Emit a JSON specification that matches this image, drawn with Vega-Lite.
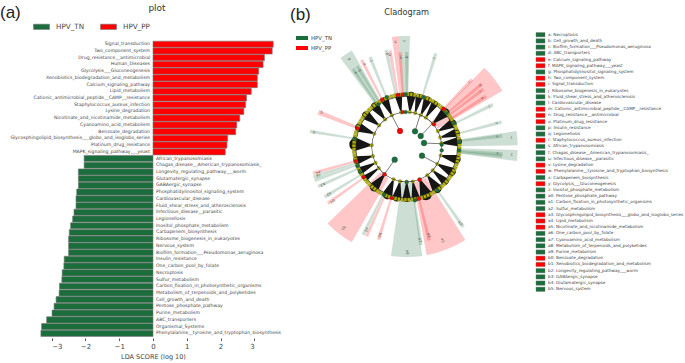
{"$schema":"https://vega.github.io/schema/vega-lite/v6.json","width":685,"height":363,"autosize":{"type":"none"},"padding":0,"background":"white","config":{"view":{"stroke":null},"text":{"font":"DejaVu Sans"},"axis":{"labelFont":"DejaVu Sans","titleFont":"DejaVu Sans"},"legend":{"labelFont":"DejaVu Sans"}},"resolve":{"scale":{"x":"independent","y":"independent","color":"independent"}},"layer":[
{"data":{"values":[{"pathway":"Signal_transduction","lda":3.56,"group":"HPV_PP"},{"pathway":"Two_component_system","lda":3.53,"group":"HPV_PP"},{"pathway":"Drug_resistance__antimicrobial","lda":3.3,"group":"HPV_PP"},{"pathway":"Human_Diseases","lda":3.26,"group":"HPV_PP"},{"pathway":"Glycolysis___Gluconeogenesis","lda":3.13,"group":"HPV_PP"},{"pathway":"Xenobiotics_biodegradation_and_metabolism","lda":3.09,"group":"HPV_PP"},{"pathway":"Calcium_signaling_pathway","lda":3.09,"group":"HPV_PP"},{"pathway":"Lipid_metabolism","lda":2.91,"group":"HPV_PP"},{"pathway":"Cationic_antimicrobial_peptide__CAMP__resistance","lda":2.77,"group":"HPV_PP"},{"pathway":"Staphylococcus_aureus_infection","lda":2.74,"group":"HPV_PP"},{"pathway":"Lysine_degradation","lda":2.69,"group":"HPV_PP"},{"pathway":"Nicotinate_and_nicotinamide_metabolism","lda":2.57,"group":"HPV_PP"},{"pathway":"Cyanoamino_acid_metabolism","lda":2.48,"group":"HPV_PP"},{"pathway":"Benzoate_degradation","lda":2.45,"group":"HPV_PP"},{"pathway":"Glycosphingolipid_biosynthesis___globo_and_isoglobo_series","lda":2.21,"group":"HPV_PP"},{"pathway":"Platinum_drug_resistance","lda":2.19,"group":"HPV_PP"},{"pathway":"MAPK_signaling_pathway___yeast","lda":2.14,"group":"HPV_PP"},{"pathway":"African_trypanosomiasis","lda":-2.04,"group":"HPV_TN"},{"pathway":"Chagas_disease__American_trypanosomiasis_","lda":-2.04,"group":"HPV_TN"},{"pathway":"Longevity_regulating_pathway___worm","lda":-2.21,"group":"HPV_TN"},{"pathway":"Glutamatergic_synapse","lda":-2.21,"group":"HPV_TN"},{"pathway":"GABAergic_synapse","lda":-2.21,"group":"HPV_TN"},{"pathway":"Phosphatidylinositol_signaling_system","lda":-2.26,"group":"HPV_TN"},{"pathway":"Cardiovascular_disease","lda":-2.28,"group":"HPV_TN"},{"pathway":"Fluid_shear_stress_and_atherosclerosis","lda":-2.28,"group":"HPV_TN"},{"pathway":"Infectious_disease__parasitic","lda":-2.34,"group":"HPV_TN"},{"pathway":"Legionellosis","lda":-2.38,"group":"HPV_TN"},{"pathway":"Inositol_phosphate_metabolism","lda":-2.44,"group":"HPV_TN"},{"pathway":"Carbapenem_biosynthesis","lda":-2.48,"group":"HPV_TN"},{"pathway":"Ribosome_biogenesis_in_eukaryotes","lda":-2.5,"group":"HPV_TN"},{"pathway":"Nervous_system","lda":-2.5,"group":"HPV_TN"},{"pathway":"Biofilm_formation___Pseudomonas_aeruginosa","lda":-2.5,"group":"HPV_TN"},{"pathway":"Insulin_resistance","lda":-2.63,"group":"HPV_TN"},{"pathway":"One_carbon_pool_by_folate","lda":-2.64,"group":"HPV_TN"},{"pathway":"Necroptosis","lda":-2.69,"group":"HPV_TN"},{"pathway":"Sulfur_metabolism","lda":-2.7,"group":"HPV_TN"},{"pathway":"Carbon_fixation_in_photosynthetic_organisms","lda":-2.77,"group":"HPV_TN"},{"pathway":"Metabolism_of_terpenoids_and_polyketides","lda":-2.78,"group":"HPV_TN"},{"pathway":"Cell_growth_and_death","lda":-2.87,"group":"HPV_TN"},{"pathway":"Pentose_phosphate_pathway","lda":-2.93,"group":"HPV_TN"},{"pathway":"Purine_metabolism","lda":-2.99,"group":"HPV_TN"},{"pathway":"ABC_transporters","lda":-3.15,"group":"HPV_TN"},{"pathway":"Organismal_Systems","lda":-3.3,"group":"HPV_TN"},{"pathway":"Phenylalanine__tyrosine_and_tryptophan_biosynthesis","lda":-3.32,"group":"HPV_TN"}]},
"encoding":{"y":{"field":"pathway","type":"nominal","sort":null,"axis":null,"scale":{"range":[41.15,336.4],"paddingInner":0.08,"paddingOuter":0}}},
"layer":[
{"mark":{"type":"bar","stroke":"#777777","strokeWidth":0.6},"encoding":{"x":{"field":"lda","type":"quantitative","stack":null,"scale":{"domain":[-3,3],"range":[51.7,254.3],"nice":false,"zero":false},"axis":{"values":[-3,-2,-1,0,1,2,3],"format":"d","offset":-25,"domain":false,"grid":false,"ticks":true,"tickSize":2.5,"tickColor":"#555555","labelFontSize":7,"labelColor":"#444444","labelPadding":2,"title":"LDA SCORE (log 10)","titleFontSize":6.5,"titleFontWeight":"normal","titleColor":"#444444","titlePadding":4}},"color":{"field":"group","type":"nominal","scale":{"domain":["HPV_TN","HPV_PP"],"range":["#1b6e3c","#ff0000"]},"legend":{"orient":"none","legendX":33,"legendY":18,"direction":"horizontal","title":null,"symbolType":"M-1,-0.33H1V0.33H-1Z","symbolSize":256,"symbolStrokeWidth":0.6,"labelFontSize":7.2,"labelColor":"#444444","labelOffset":6,"columnPadding":14}}}},
{"transform":[{"filter":"datum.group=='HPV_PP'"}],"mark":{"type":"text","align":"right","dx":-3,"fontSize":4.6,"fill":"#444444"},"encoding":{"x":{"datum":0,"type":"quantitative","scale":{"domain":[-3,3],"range":[51.7,254.3],"nice":false,"zero":false}},"text":{"field":"pathway"}}},
{"transform":[{"filter":"datum.group=='HPV_TN'"}],"mark":{"type":"text","align":"left","dx":3,"fontSize":4.6,"fill":"#444444"},"encoding":{"x":{"datum":0,"type":"quantitative","scale":{"domain":[-3,3],"range":[51.7,254.3],"nice":false,"zero":false}},"text":{"field":"pathway"}}}
]},
{"layer":[
{"data":{"values":[{"t":-7.7,"t2":-4,"r1":50,"r2":111,"g":"HPV_PP"},{"t":-4,"t2":1.7,"r1":50,"r2":111,"g":"HPV_TN"},{"t":-36.7,"t2":-29.6,"r1":50,"r2":111,"g":"HPV_TN"},{"t":-150,"t2":-134,"r1":36,"r2":110,"g":"HPV_PP"},{"t":171.8,"t2":188.2,"r1":36,"r2":110,"g":"HPV_TN"},{"t":147.8,"t2":169.5,"r1":36,"r2":110,"g":"HPV_PP"},{"t":91.5,"t2":97.3,"r1":50,"r2":111,"g":"HPV_TN"},{"t":81.7,"t2":89.1,"r1":50,"r2":111,"g":"HPV_TN"},{"t":44.4,"t2":59.6,"r1":36,"r2":111,"g":"HPV_PP"},{"t":-5,"t2":-3,"r1":50,"r2":95,"g":"HPV_PP"},{"t":-1,"t2":1,"r1":50,"r2":95,"g":"HPV_TN"},{"t":-13,"t2":-11,"r1":50,"r2":99,"g":"HPV_TN"},{"t":-10.8,"t2":-8.8,"r1":50,"r2":98,"g":"HPV_PP"},{"t":16.3,"t2":18.3,"r1":50,"r2":98,"g":"HPV_TN"},{"t":-35.5,"t2":-33.5,"r1":50,"r2":95,"g":"HPV_TN"},{"t":-32.5,"t2":-30.5,"r1":50,"r2":95,"g":"HPV_TN"},{"t":-28.4,"t2":-26.4,"r1":50,"r2":98,"g":"HPV_PP"},{"t":-23.2,"t2":-21.2,"r1":50,"r2":97,"g":"HPV_TN"},{"t":-70,"t2":-67,"r1":50,"r2":95,"g":"HPV_PP"},{"t":-81.8,"t2":-79.8,"r1":50,"r2":98,"g":"HPV_TN"},{"t":-106.6,"t2":-104.6,"r1":50,"r2":97,"g":"HPV_PP"},{"t":-108.8,"t2":-106.8,"r1":50,"r2":98,"g":"HPV_TN"},{"t":-110.9,"t2":-108.9,"r1":50,"r2":98,"g":"HPV_TN"},{"t":-115,"t2":-113,"r1":50,"r2":97,"g":"HPV_TN"},{"t":-122.3,"t2":-120.3,"r1":50,"r2":96,"g":"HPV_TN"},{"t":-126.6,"t2":-124.6,"r1":50,"r2":97,"g":"HPV_PP"},{"t":-154.6,"t2":-152.6,"r1":50,"r2":98,"g":"HPV_TN"},{"t":-156.8,"t2":-154.8,"r1":50,"r2":98,"g":"HPV_PP"},{"t":-164.1,"t2":-162.1,"r1":50,"r2":97,"g":"HPV_PP"},{"t":170.7,"t2":172.7,"r1":50,"r2":99,"g":"HPV_TN"},{"t":165.5,"t2":167.5,"r1":50,"r2":96,"g":"HPV_PP"},{"t":143.7,"t2":145.7,"r1":50,"r2":98,"g":"HPV_TN"},{"t":93.2,"t2":95.2,"r1":50,"r2":96,"g":"HPV_TN"},{"t":94.5,"t2":96.5,"r1":50,"r2":96,"g":"HPV_TN"},{"t":82.4,"t2":84.4,"r1":50,"r2":96,"g":"HPV_TN"},{"t":74.3,"t2":76.3,"r1":50,"r2":98,"g":"HPV_TN"},{"t":62.8,"t2":64.8,"r1":50,"r2":96,"g":"HPV_TN"},{"t":43,"t2":45,"r1":50,"r2":94,"g":"HPV_PP"},{"t":49,"t2":51,"r1":50,"r2":98,"g":"HPV_PP"},{"t":52,"t2":54,"r1":50,"r2":96,"g":"HPV_PP"},{"t":56.4,"t2":58.4,"r1":50,"r2":94,"g":"HPV_PP"}]},
"mark":{"type":"arc","opacity":0.22},
"encoding":{"x":{"datum":0,"type":"quantitative","axis":null,"scale":{"domain":[-112,112],"range":[294.7,518.7],"nice":false,"zero":false}},"y":{"datum":0,"type":"quantitative","axis":null,"scale":{"domain":[-112,112],"range":[35,259],"nice":false,"zero":false}},"theta":{"field":"t","type":"quantitative","stack":false,"scale":{"domain":[0,360],"range":[0,6.28319]}},"theta2":{"field":"t2"},"radius":{"field":"r2","type":"quantitative","scale":{"type":"linear","domain":[0,112],"range":[0,112]}},"radius2":{"field":"r1"},"color":{"field":"g","type":"nominal","legend":null,"scale":{"domain":["HPV_TN","HPV_PP"],"range":["#1b6e3c","#ff0000"]}}}},
{"data":{"values":[{"f":1,"x":3.1,"y":-34.9,"w":0},{"f":1,"x":4.4,"y":-50.8,"w":9},{"f":2,"x":8.5,"y":-34,"w":0},{"f":2,"x":12.3,"y":-49.5,"w":7},{"f":3,"x":14.2,"y":-32,"w":0},{"f":3,"x":20.7,"y":-46.6,"w":8},{"f":4,"x":19.1,"y":-29.4,"w":0},{"f":4,"x":27.8,"y":-42.8,"w":7},{"f":5,"x":26,"y":-23.4,"w":0},{"f":5,"x":37.9,"y":-34.1,"w":10},{"f":6,"x":31.2,"y":-15.9,"w":0},{"f":6,"x":45.4,"y":-23.2,"w":9},{"f":7,"x":33.6,"y":-9.6,"w":0},{"f":7,"x":49,"y":-14.1,"w":8},{"f":8,"x":34.8,"y":-3.7,"w":0},{"f":8,"x":50.7,"y":-5.3,"w":9},{"f":9,"x":34,"y":8.5,"w":0},{"f":9,"x":49.5,"y":12.3,"w":9},{"f":10,"x":30.6,"y":17,"w":0},{"f":10,"x":44.6,"y":24.7,"w":9},{"f":11,"x":26,"y":23.4,"w":0},{"f":11,"x":37.9,"y":34.1,"w":8},{"f":12,"x":20.6,"y":28.3,"w":0},{"f":12,"x":30,"y":41.3,"w":10},{"f":13,"x":13.1,"y":32.4,"w":0},{"f":13,"x":19.1,"y":47.3,"w":12},{"f":14,"x":6.1,"y":34.5,"w":0},{"f":14,"x":8.9,"y":50.2,"w":8},{"f":15,"x":0,"y":35,"w":0},{"f":15,"x":0,"y":51,"w":8},{"f":16,"x":-6.7,"y":34.4,"w":0},{"f":16,"x":-9.7,"y":50.1,"w":9},{"f":17,"x":-13.1,"y":32.4,"w":0},{"f":17,"x":-19.1,"y":47.3,"w":10},{"f":18,"x":-22,"y":27.2,"w":0},{"f":18,"x":-32.1,"y":39.6,"w":10},{"f":19,"x":-28,"y":21.1,"w":0},{"f":19,"x":-40.7,"y":30.7,"w":6},{"f":20,"x":-31.2,"y":15.9,"w":0},{"f":20,"x":-45.4,"y":23.2,"w":7},{"f":21,"x":-33.8,"y":9.1,"w":0},{"f":21,"x":-49.3,"y":13.2,"w":8},{"f":22,"x":-35,"y":-1.8,"w":0},{"f":22,"x":-50.9,"y":-2.7,"w":13},{"f":23,"x":-32.4,"y":-13.3,"w":0},{"f":23,"x":-47.2,"y":-19.4,"w":9},{"f":24,"x":-27.6,"y":-21.6,"w":0},{"f":24,"x":-40.2,"y":-31.4,"w":9},{"f":25,"x":-21.6,"y":-27.6,"w":0},{"f":25,"x":-31.4,"y":-40.2,"w":9},{"f":26,"x":-14.8,"y":-31.7,"w":0},{"f":26,"x":-21.6,"y":-46.2,"w":8},{"f":27,"x":-5.5,"y":-34.6,"w":0},{"f":27,"x":-8,"y":-50.4,"w":7}]},
"layer":[
{"mark":{"type":"trail","color":"#161616"},"encoding":{"x":{"field":"x","type":"quantitative","axis":null,"scale":{"domain":[-112,112],"range":[294.7,518.7],"nice":false,"zero":false}},"y":{"field":"y","type":"quantitative","axis":null,"scale":{"domain":[-112,112],"range":[35,259],"nice":false,"zero":false}},"detail":{"field":"f"},"size":{"field":"w","type":"quantitative","scale":null}}},
{"transform":[{"filter":"datum.w==0"}],"mark":{"type":"point","filled":true,"fill":"#b5b500","stroke":"#555555","strokeWidth":0.3,"opacity":1,"size":13},"encoding":{"x":{"field":"x","type":"quantitative","axis":null,"scale":{"domain":[-112,112],"range":[294.7,518.7],"nice":false,"zero":false}},"y":{"field":"y","type":"quantitative","axis":null,"scale":{"domain":[-112,112],"range":[35,259],"nice":false,"zero":false}}}}
]},
{"data":{"values":[{"t":0,"t2":360,"r1":34.7,"r2":35.2},{"t":0,"t2":360,"r1":50.5,"r2":51.2},{"t":0,"t2":2.8},{"t":3.6,"t2":6.4},{"t":7.2,"t2":10},{"t":10.8,"t2":13.6},{"t":14.4,"t2":17.2},{"t":18,"t2":20.8},{"t":21.6,"t2":24.4},{"t":25.2,"t2":28},{"t":28.8,"t2":31.6},{"t":32.4,"t2":35.2},{"t":36,"t2":38.8},{"t":39.6,"t2":42.4},{"t":43.2,"t2":46},{"t":46.8,"t2":49.6},{"t":50.4,"t2":53.2},{"t":54,"t2":56.8},{"t":57.6,"t2":60.4},{"t":61.2,"t2":64},{"t":64.8,"t2":67.6},{"t":68.4,"t2":71.2},{"t":72,"t2":74.8},{"t":75.6,"t2":78.4},{"t":79.2,"t2":82},{"t":82.8,"t2":85.6},{"t":86.4,"t2":89.2},{"t":90,"t2":92.8},{"t":93.6,"t2":96.4},{"t":97.2,"t2":100},{"t":100.8,"t2":103.6},{"t":104.4,"t2":107.2},{"t":108,"t2":110.8},{"t":111.6,"t2":114.4},{"t":115.2,"t2":118},{"t":118.8,"t2":121.6},{"t":122.4,"t2":125.2},{"t":126,"t2":128.8},{"t":129.6,"t2":132.4},{"t":133.2,"t2":136},{"t":136.8,"t2":139.6},{"t":140.4,"t2":143.2},{"t":144,"t2":146.8},{"t":147.6,"t2":150.4},{"t":151.2,"t2":154},{"t":154.8,"t2":157.6},{"t":158.4,"t2":161.2},{"t":162,"t2":164.8},{"t":165.6,"t2":168.4},{"t":169.2,"t2":172},{"t":172.8,"t2":175.6},{"t":176.4,"t2":179.2},{"t":180,"t2":182.8},{"t":183.6,"t2":186.4},{"t":187.2,"t2":190},{"t":190.8,"t2":193.6},{"t":194.4,"t2":197.2},{"t":198,"t2":200.8},{"t":201.6,"t2":204.4},{"t":205.2,"t2":208},{"t":208.8,"t2":211.6},{"t":212.4,"t2":215.2},{"t":216,"t2":218.8},{"t":219.6,"t2":222.4},{"t":223.2,"t2":226},{"t":226.8,"t2":229.6},{"t":230.4,"t2":233.2},{"t":234,"t2":236.8},{"t":237.6,"t2":240.4},{"t":241.2,"t2":244},{"t":244.8,"t2":247.6},{"t":248.4,"t2":251.2},{"t":252,"t2":254.8},{"t":255.6,"t2":258.4},{"t":259.2,"t2":262},{"t":262.8,"t2":265.6},{"t":266.4,"t2":269.2},{"t":270,"t2":272.8},{"t":273.6,"t2":276.4},{"t":277.2,"t2":280},{"t":280.8,"t2":283.6},{"t":284.4,"t2":287.2},{"t":288,"t2":290.8},{"t":291.6,"t2":294.4},{"t":295.2,"t2":298},{"t":298.8,"t2":301.6},{"t":302.4,"t2":305.2},{"t":306,"t2":308.8},{"t":309.6,"t2":312.4},{"t":313.2,"t2":316},{"t":316.8,"t2":319.6},{"t":320.4,"t2":323.2},{"t":324,"t2":326.8},{"t":327.6,"t2":330.4},{"t":331.2,"t2":334},{"t":334.8,"t2":337.6},{"t":338.4,"t2":341.2},{"t":342,"t2":344.8},{"t":345.6,"t2":348.4},{"t":349.2,"t2":352},{"t":352.8,"t2":355.6},{"t":356.4,"t2":359.2}]},
"layer":[
{"transform":[{"filter":"datum.r1>0"}],"mark":{"type":"arc","fill":"#222222"},"encoding":{"x":{"datum":0,"type":"quantitative","axis":null,"scale":{"domain":[-112,112],"range":[294.7,518.7],"nice":false,"zero":false}},"y":{"datum":0,"type":"quantitative","axis":null,"scale":{"domain":[-112,112],"range":[35,259],"nice":false,"zero":false}},"theta":{"field":"t","type":"quantitative","stack":false,"scale":{"domain":[0,360],"range":[0,6.28319]}},"theta2":{"field":"t2"},"radius":{"field":"r2","type":"quantitative","scale":{"type":"linear","domain":[0,112],"range":[0,112]}},"radius2":{"field":"r1"}}},
{"transform":[{"filter":"!(datum.r1>0)"}],"mark":{"type":"arc","fill":"#b3b300","stroke":"#5a5a20","strokeWidth":0.25,"innerRadius":51,"outerRadius":54.5},"encoding":{"x":{"datum":0,"type":"quantitative","axis":null,"scale":{"domain":[-112,112],"range":[294.7,518.7],"nice":false,"zero":false}},"y":{"datum":0,"type":"quantitative","axis":null,"scale":{"domain":[-112,112],"range":[35,259],"nice":false,"zero":false}},"theta":{"field":"t","type":"quantitative","stack":false,"scale":{"domain":[0,360],"range":[0,6.28319]}},"theta2":{"field":"t2"}}}
]},
{"data":{"values":[{"x":-6.7,"y":-16,"x2":-15,"y2":-31.7,"n":"HPV_PP"},{"x":8.3,"y":-15.7,"x2":13.3,"y2":-31.7,"n":"none"},{"x":14,"y":-11,"x2":25,"y2":-22.7,"n":"none"},{"x":17.3,"y":-4,"x2":33.3,"y2":-3.3,"n":"none"},{"x":15.3,"y":8.7,"x2":30,"y2":16.7,"n":"HPV_TN"},{"x":-12,"y":12.7,"x2":-22.3,"y2":27.3,"n":"none"}]},
"layer":[
{"mark":{"type":"rule","stroke":"#444444","strokeWidth":0.7},"encoding":{"x":{"field":"x","type":"quantitative","axis":null,"scale":{"domain":[-112,112],"range":[294.7,518.7],"nice":false,"zero":false}},"y":{"field":"y","type":"quantitative","axis":null,"scale":{"domain":[-112,112],"range":[35,259],"nice":false,"zero":false}},"x2":{"field":"x2"},"y2":{"field":"y2"}}},
{"mark":{"type":"point","filled":true,"stroke":"#444444","strokeWidth":0.3,"opacity":1,"size":34},"encoding":{"x":{"field":"x","type":"quantitative","axis":null,"scale":{"domain":[-112,112],"range":[294.7,518.7],"nice":false,"zero":false}},"y":{"field":"y","type":"quantitative","axis":null,"scale":{"domain":[-112,112],"range":[35,259],"nice":false,"zero":false}},"color":{"field":"n","type":"nominal","legend":null,"scale":{"domain":["HPV_TN","HPV_PP","none"],"range":["#1b6e3c","#ff0000","#b5b500"]}}}}
]},
{"data":{"values":[{"x":-49.3,"y":-18.7,"g":"HPV_PP"},{"x":-52.3,"y":-8.3,"g":"HPV_TN"},{"x":-50.7,"y":14,"g":"HPV_PP"},{"x":-49.3,"y":19,"g":"HPV_TN"},{"x":-46.7,"y":25,"g":"HPV_TN"},{"x":-43.3,"y":30,"g":"HPV_PP"},{"x":-22.3,"y":27.3,"g":"HPV_PP"},{"x":-22.7,"y":47.7,"g":"HPV_TN"},{"x":-15,"y":51,"g":"HPV_PP"},{"x":0,"y":35,"g":"HPV_TN"},{"x":8.3,"y":53.3,"g":"HPV_TN"},{"x":12.7,"y":32.7,"g":"HPV_PP"},{"x":12.3,"y":51.7,"g":"HPV_PP"},{"x":30.7,"y":43.3,"g":"HPV_TN"},{"x":52.3,"y":3.3,"g":"HPV_TN"},{"x":35,"y":-2.3,"g":"HPV_TN"},{"x":35,"y":3.3,"g":"HPV_TN"},{"x":52.3,"y":-5,"g":"HPV_TN"},{"x":47.3,"y":-24,"g":"HPV_TN"},{"x":40,"y":-34,"g":"HPV_TN"},{"x":36.7,"y":-38.3,"g":"HPV_PP"},{"x":27.3,"y":-22.7,"g":"HPV_PP"},{"x":16.7,"y":-50,"g":"HPV_TN"},{"x":-4,"y":-52.3,"g":"HPV_PP"},{"x":-1,"y":-52.7,"g":"HPV_TN"},{"x":-9,"y":-52,"g":"HPV_PP"},{"x":-24.7,"y":-47.3,"g":"HPV_PP"},{"x":-20,"y":-50,"g":"HPV_TN"},{"x":-28.3,"y":-42.7,"g":"HPV_TN"},{"x":-4,"y":-35,"g":"HPV_PP"},{"x":-1,"y":-35,"g":"HPV_TN"}]},
"mark":{"type":"point","filled":true,"stroke":"#333333","strokeWidth":0.3,"opacity":1,"size":14},"encoding":{"x":{"field":"x","type":"quantitative","axis":null,"scale":{"domain":[-112,112],"range":[294.7,518.7],"nice":false,"zero":false}},"y":{"field":"y","type":"quantitative","axis":null,"scale":{"domain":[-112,112],"range":[35,259],"nice":false,"zero":false}},"color":{"field":"g","type":"nominal","legend":null,"scale":{"domain":["HPV_TN","HPV_PP","none"],"range":["#1b6e3c","#ff0000","#b5b500"]}}}},
{"data":{"values":[{"t":-1,"r":106,"l":"l"},{"t":-6,"r":106,"l":"n"},{"t":-3.5,"r":90,"l":"m"},{"t":0,"r":90,"l":"k"},{"t":-12,"r":95,"l":"g"},{"t":-10,"r":94,"l":"h"},{"t":-33,"r":105,"l":"d"},{"t":-34.5,"r":90,"l":"a"},{"t":-31.5,"r":90,"l":"b"},{"t":-27,"r":93,"l":"e"},{"t":-22,"r":93,"l":"f"},{"t":17,"r":93,"l":"c"},{"t":44,"r":90,"l":"i"},{"t":50,"r":96,"l":"o"},{"t":53,"r":92,"l":"r"},{"t":57,"r":90,"l":"v"},{"t":64,"r":92,"l":"j"},{"t":75,"r":93,"l":"u"},{"t":83.4,"r":91,"l":"s"},{"t":85,"r":105,"l":"t"},{"t":94,"r":91,"l":"x"},{"t":94,"r":105,"l":"z"},{"t":145,"r":93,"l":"a0"},{"t":166,"r":91,"l":"a3"},{"t":159,"r":100,"l":"a5"},{"t":172,"r":94,"l":"a7"},{"t":180,"r":105,"l":"a9"},{"t":-163,"r":92,"l":"b0"},{"t":-154,"r":92,"l":"a1"},{"t":-142,"r":103,"l":"b1"},{"t":-126,"r":92,"l":"b4"},{"t":-121,"r":91,"l":"b2"},{"t":-114,"r":92,"l":"b3"},{"t":-108,"r":93,"l":"a2"},{"t":-106,"r":92,"l":"a4"},{"t":-81,"r":94,"l":"p"},{"t":-68,"r":92,"l":"q"}]},
"mark":{"type":"text","fontSize":3.8,"fill":"#555555"},"encoding":{"x":{"datum":0,"type":"quantitative","axis":null,"scale":{"domain":[-112,112],"range":[294.7,518.7],"nice":false,"zero":false}},"y":{"datum":0,"type":"quantitative","axis":null,"scale":{"domain":[-112,112],"range":[35,259],"nice":false,"zero":false}},"theta":{"field":"t","type":"quantitative","stack":false,"scale":{"domain":[0,360],"range":[0,6.28319]}},"radius":{"field":"r","type":"quantitative","scale":{"type":"linear","domain":[0,112],"range":[0,112]}},"angle":{"field":"t","type":"quantitative","scale":{"domain":[-90,270],"range":[-180,180]}},"text":{"field":"l"}}}
]},
{"data":{"values":[{"group":"HPV_TN"},{"group":"HPV_PP"}]},
"encoding":{"y":{"field":"group","type":"nominal","sort":null,"axis":null,"scale":{"range":[33,53],"paddingInner":0.6,"paddingOuter":0.3}},"x":{"datum":0,"type":"quantitative","axis":null,"scale":{"domain":[0,1],"range":[296,308],"nice":false,"zero":false}}},
"layer":[
{"mark":{"type":"rect"},"encoding":{"x2":{"datum":1},"color":{"field":"group","type":"nominal","legend":null,"scale":{"domain":["HPV_TN","HPV_PP"],"range":["#1b6e3c","#ff0000"]}}}},
{"mark":{"type":"text","align":"left","dx":3,"fontSize":5.4,"fill":"#444444"},"encoding":{"x":{"datum":1,"type":"quantitative","axis":null,"scale":{"domain":[0,1],"range":[296,308],"nice":false,"zero":false}},"text":{"field":"group"}}}
]},
{"data":{"values":[{"key":"a: Necroptosis","group":"HPV_TN"},{"key":"b: Cell_growth_and_death","group":"HPV_TN"},{"key":"c: Biofilm_formation___Pseudomonas_aeruginosa","group":"HPV_TN"},{"key":"d: ABC_transporters","group":"HPV_TN"},{"key":"e: Calcium_signaling_pathway","group":"HPV_PP"},{"key":"f: MAPK_signaling_pathway___yeast","group":"HPV_PP"},{"key":"g: Phosphatidylinositol_signaling_system","group":"HPV_TN"},{"key":"h: Two_component_system","group":"HPV_PP"},{"key":"i: Signal_transduction","group":"HPV_PP"},{"key":"j: Ribosome_biogenesis_in_eukaryotes","group":"HPV_TN"},{"key":"k: Fluid_shear_stress_and_atherosclerosis","group":"HPV_TN"},{"key":"l: Cardiovascular_disease","group":"HPV_TN"},{"key":"m: Cationic_antimicrobial_peptide__CAMP__resistance","group":"HPV_PP"},{"key":"n: Drug_resistance__antimicrobial","group":"HPV_PP"},{"key":"o: Platinum_drug_resistance","group":"HPV_PP"},{"key":"p: Insulin_resistance","group":"HPV_TN"},{"key":"q: Legionellosis","group":"HPV_TN"},{"key":"r: Staphylococcus_aureus_infection","group":"HPV_PP"},{"key":"s: African_trypanosomiasis","group":"HPV_TN"},{"key":"t: Chagas_disease__American_trypanosomiasis_","group":"HPV_TN"},{"key":"u: Infectious_disease__parasitic","group":"HPV_TN"},{"key":"v: Lysine_degradation","group":"HPV_PP"},{"key":"w: Phenylalanine__tyrosine_and_tryptophan_biosynthesis","group":"HPV_PP"},{"key":"x: Carbapenem_biosynthesis","group":"HPV_TN"},{"key":"y: Glycolysis___Gluconeogenesis","group":"HPV_PP"},{"key":"z: Inositol_phosphate_metabolism","group":"HPV_TN"},{"key":"a0: Pentose_phosphate_pathway","group":"HPV_TN"},{"key":"a1: Carbon_fixation_in_photosynthetic_organisms","group":"HPV_TN"},{"key":"a2: Sulfur_metabolism","group":"HPV_TN"},{"key":"a3: Glycosphingolipid_biosynthesis___globo_and_isoglobo_series","group":"HPV_PP"},{"key":"a4: Lipid_metabolism","group":"HPV_PP"},{"key":"a5: Nicotinate_and_nicotinamide_metabolism","group":"HPV_PP"},{"key":"a6: One_carbon_pool_by_folate","group":"HPV_TN"},{"key":"a7: Cyanoamino_acid_metabolism","group":"HPV_TN"},{"key":"a8: Metabolism_of_terpenoids_and_polyketides","group":"HPV_TN"},{"key":"a9: Purine_metabolism","group":"HPV_TN"},{"key":"b0: Benzoate_degradation","group":"HPV_PP"},{"key":"b1: Xenobiotics_biodegradation_and_metabolism","group":"HPV_PP"},{"key":"b2: Longevity_regulating_pathway___worm","group":"HPV_TN"},{"key":"b3: GABAergic_synapse","group":"HPV_TN"},{"key":"b4: Glutamatergic_synapse","group":"HPV_TN"},{"key":"b5: Nervous_system","group":"HPV_TN"}]},
"encoding":{"y":{"field":"key","type":"nominal","sort":null,"axis":null,"scale":{"range":[31.6,292.4],"paddingInner":0.3,"paddingOuter":0.15}},"x":{"datum":0,"type":"quantitative","axis":null,"scale":{"domain":[0,1],"range":[536,545],"nice":false,"zero":false}}},
"layer":[
{"mark":{"type":"rect","stroke":"#777777","strokeWidth":0.4},"encoding":{"x2":{"datum":1},"color":{"field":"group","type":"nominal","legend":null,"scale":{"domain":["HPV_TN","HPV_PP"],"range":["#1b6e3c","#ff0000"]}}}},
{"mark":{"type":"text","align":"left","dx":3,"fontSize":4.2,"fill":"#444444"},"encoding":{"x":{"datum":1,"type":"quantitative","axis":null,"scale":{"domain":[0,1],"range":[536,545],"nice":false,"zero":false}},"text":{"field":"key"}}}
]},
{"data":{"values":[{}]},"mark":{"type":"text","text":"plot","x":157,"y":8,"fontSize":9,"fill":"#333333","align":"center","baseline":"middle"}},
{"data":{"values":[{}]},"mark":{"type":"text","text":"Cladogram","x":406.7,"y":13,"fontSize":8.2,"fill":"#333333","align":"center","baseline":"middle"}},
{"data":{"values":[{}]},"mark":{"type":"text","text":"(a)","x":0,"y":13,"fontSize":17,"fill":"#222222","align":"left","baseline":"middle","font":"Liberation Sans"}},
{"data":{"values":[{}]},"mark":{"type":"text","text":"(b)","x":290,"y":15,"fontSize":17,"fill":"#222222","align":"left","baseline":"middle","font":"Liberation Sans"}}
]}
